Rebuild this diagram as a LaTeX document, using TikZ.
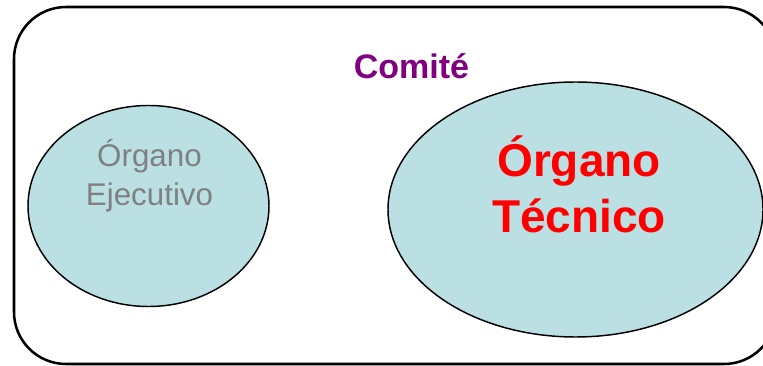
\documentclass[tikz,border=0pt]{standalone}
\usepackage{fontspec}
\setmainfont{Liberation Sans}
\usetikzlibrary{shapes.geometric}
\definecolor{organofill}{RGB}{187,224,227}
\definecolor{comitepurple}{RGB}{128,0,128}
\definecolor{ejecgray}{RGB}{128,128,128}

\begin{document}
\begin{tikzpicture}[x=0.75pt,y=-0.75pt,
    organo/.style={ellipse,draw,line width=1.1pt,fill=organofill,inner sep=0pt}]
    \useasboundingbox (0,0) rectangle (763,366);
    \clip (0,0) rectangle (763,366);
    \draw[line width=1.9pt,rounded corners=39pt] (14,7) rectangle (776,364);
    \node[font=\fontsize{25.5}{30}\selectfont\bfseries,text=comitepurple,anchor=base] (comite) at (411.5,79) {Comité};
    \node[organo,minimum width=180.75pt,minimum height=150.75pt] (ejecutivo) at (148.5,206) {};
    \node[organo,minimum width=281.25pt,minimum height=191.25pt] (tecnico) at (575.5,209.5) {};
    \node[font=\fontsize{23.5}{29.25}\selectfont,text=ejecgray,align=center,anchor=base] (ejecutivotxt) at (149.5,206) {Órgano\\Ejecutivo};
    \node[font=\fontsize{34.5}{42}\selectfont\bfseries,text=red,align=center,anchor=base] (tecnicotxt) at (579,233) {Órgano\\Técnico};
  \end{tikzpicture}
\end{document}
